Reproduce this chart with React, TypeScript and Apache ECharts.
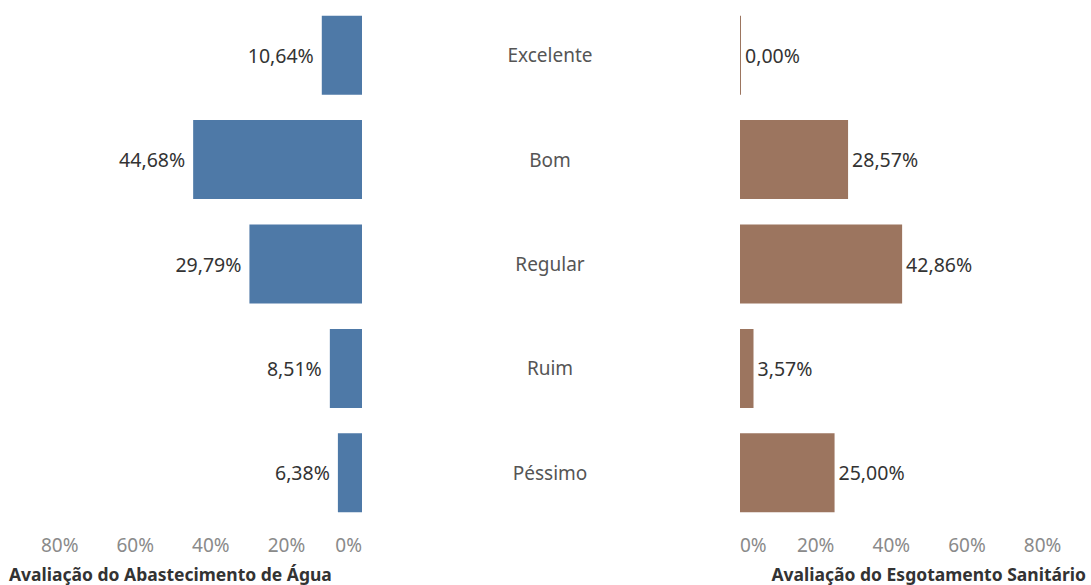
import React, { useEffect, useRef } from "react";
import * as echarts from "echarts";

const categories = ["Excelente", "Bom", "Regular", "Ruim", "Péssimo"];
const aguaValues = [10.64, 44.68, 29.79, 8.51, 6.38];
const esgotoValues = [0, 28.57, 42.86, 3.57, 25.0];
const tickValues = [0, 20, 40, 60, 80];
const leftTitle = "Avaliação do Abastecimento de Água";
const rightTitle = "Avaliação do Esgotamento Sanitário";

const FONT = "Noto Sans";
const fmt = (v: number) => v.toFixed(2).replace(".", ",") + "%";

export default function App() {
  const ref = useRef<HTMLDivElement>(null);
  useEffect(() => {
    if (!ref.current) return;
    const chart = echarts.init(ref.current, null, { renderer: "svg" });
    const tickLabel = {
      color: "#8a8a8a",
      fontSize: 19,
      fontFamily: FONT,
      margin: 10,
      formatter: (v: number) => (tickValues.includes(v) ? v + "%" : ""),
    };
    const titleStyle = { fontSize: 17.5, fontWeight: "bold", color: "#333", fontFamily: FONT };
    chart.setOption({
      animation: false,
      backgroundColor: "#ffffff",
      textStyle: { fontFamily: FONT },
      title: [
        { text: leftTitle, left: 9, top: 565, textStyle: titleStyle, padding: 0 },
        { text: rightTitle, right: 5, top: 565, textStyle: titleStyle, padding: 0 },
      ],
      grid: [
        { left: 3, right: 729, top: 3, bottom: 60 },
        { left: 740, right: 3, top: 3, bottom: 60 },
      ],
      xAxis: [
        {
          gridIndex: 0,
          type: "value",
          inverse: true,
          min: 0,
          max: 95,
          interval: 20,
          axisLine: { show: false },
          axisTick: { show: false },
          splitLine: { show: false },
          axisLabel: { ...tickLabel, alignMinLabel: "right", showMaxLabel: false },
        },
        {
          gridIndex: 1,
          type: "value",
          min: 0,
          max: 92,
          interval: 20,
          axisLine: { show: false },
          axisTick: { show: false },
          splitLine: { show: false },
          axisLabel: { ...tickLabel, alignMinLabel: "left", showMaxLabel: false },
        },
      ],
      yAxis: [
        {
          gridIndex: 0,
          type: "category",
          data: categories,
          inverse: true,
          position: "right",
          axisLine: { show: false },
          axisTick: { show: false },
          axisLabel: {
            align: "center",
            margin: 188,
            color: "#555",
            fontSize: 19,
            fontFamily: FONT,
          },
        },
        {
          gridIndex: 1,
          type: "category",
          data: categories,
          inverse: true,
          axisLine: { show: false },
          axisTick: { show: false },
          axisLabel: { show: false },
        },
      ],
      series: [
        {
          type: "bar",
          xAxisIndex: 0,
          yAxisIndex: 0,
          data: aguaValues,
          barWidth: 79,
          itemStyle: { color: "#4e79a7" },
          label: {
            show: true,
            position: "left",
            distance: 8,
            color: "#333",
            fontSize: 19.5,
            fontFamily: FONT,
            formatter: (p: any) => fmt(p.value),
          },
        },
        {
          type: "bar",
          xAxisIndex: 1,
          yAxisIndex: 1,
          data: esgotoValues,
          barWidth: 79,
          barMinHeight: 1,
          itemStyle: { color: "#9c755f" },
          label: {
            show: true,
            position: "right",
            distance: 4,
            color: "#333",
            fontSize: 19.5,
            fontFamily: FONT,
            formatter: (p: any) => fmt(p.value),
          },
        },
      ],
    });
    return () => chart.dispose();
  }, []);
  return (
    <div
      ref={ref}
      style={{ position: "fixed", left: 0, top: 0, width: 1091, height: 585 }}
    />
  );
}
